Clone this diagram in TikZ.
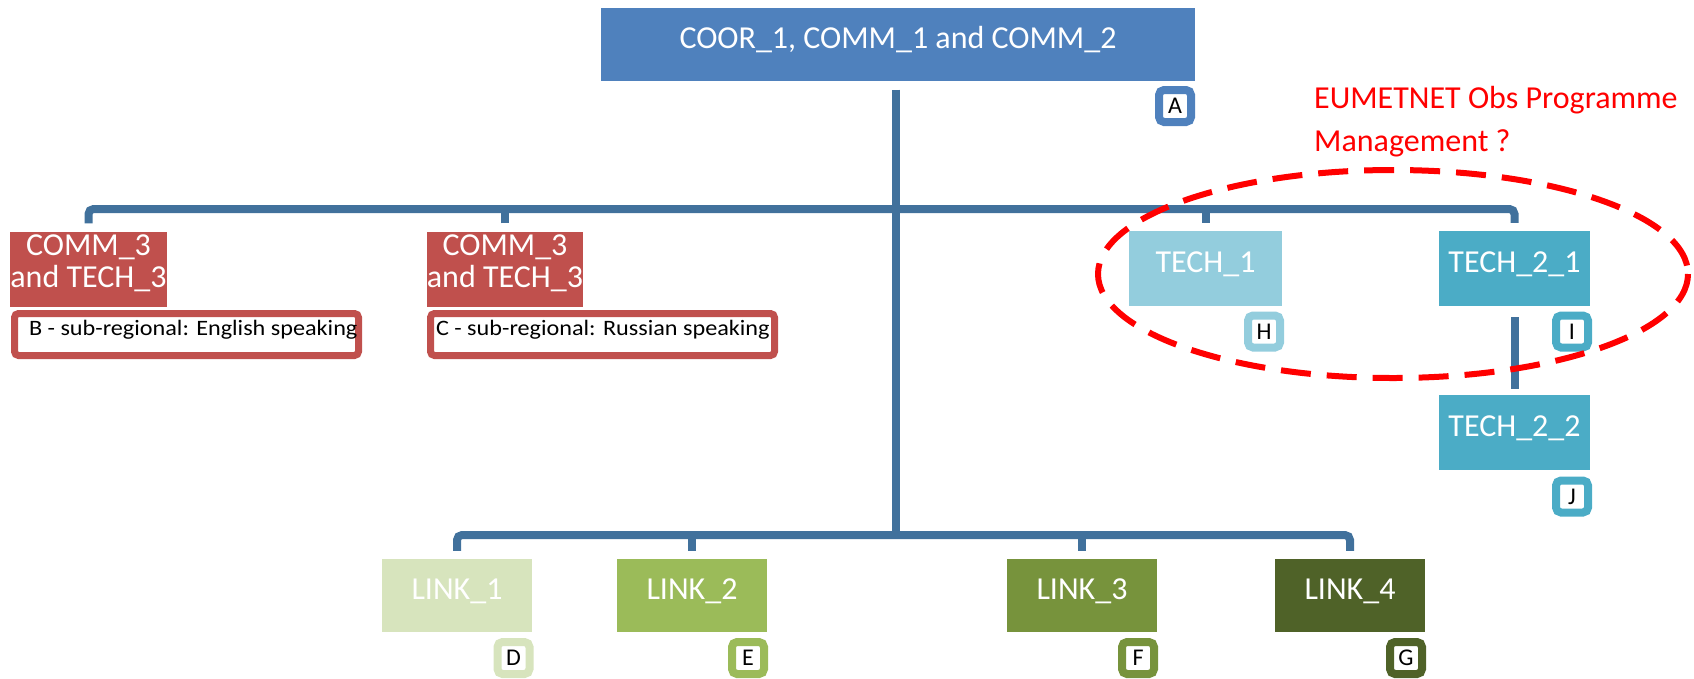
\documentclass[tikz,border=0pt]{standalone}
\usepackage{fontspec}
\setmainfont{Carlito}
\definecolor{topblue}{HTML}{4F81BD}
\definecolor{connblue}{HTML}{41719C}
\definecolor{commred}{HTML}{C0504D}
\definecolor{techlight}{HTML}{93CDDD}
\definecolor{techmid}{HTML}{4BACC6}
\definecolor{linkA}{HTML}{D7E4BD}
\definecolor{linkB}{HTML}{9BBB59}
\definecolor{linkC}{HTML}{77933C}
\definecolor{linkD}{HTML}{4F6228}
\definecolor{eumred}{HTML}{FF0000}
\begin{document}
\begin{tikzpicture}[x=1pt,y=-1pt,
  orgbox/.style={fill=#1, draw=none, inner sep=0pt, text=white,
    font=\fontsize{32}{32}\selectfont, minimum width=151pt, minimum height=75pt,
    text height=13.4pt, text depth=4.8pt},
  twoline/.style={align=center, font=\fontsize{32}{32.5}\selectfont, text height=41pt, text depth=4pt},
  subbox/.style={draw=commred, line width=7pt, fill=white, rounded corners=4pt,
    inner sep=0pt, minimum width=344pt, minimum height=42pt, text=black,
    font=\fontsize{22}{22}\selectfont, text height=4pt, text depth=3pt},
  tagbox/.style={draw=#1, line width=8pt, fill=white, rounded corners=5pt,
    inner sep=0pt, minimum width=32pt, minimum height=32pt, text=black,
    font=\fontsize{24}{24}\selectfont},
  conn/.style={draw=connblue, line width=8pt},
  eumtext/.style={text=eumred, font=\fontsize{32}{32}\selectfont, inner sep=0pt, anchor=base west}
]
\useasboundingbox (0,0) rectangle (1694,678);

% top
\node[orgbox=topblue, minimum width=594pt, minimum height=73pt] (top) at (898,44) {COOR\_1, COMM\_1 and COMM\_2};
\node[tagbox=topblue] (tagA) at (1175,106) {A};

% regional boxes
\node[orgbox=commred, twoline] (commB) at (88.5,269) {COMM\_3\\and TECH\_3};
\node[subbox] (subB) at (186.5,334.5) {\makebox[315pt][l]{\scalebox{1.10}[1]{B - sub-regional: English speaking}}};
\node[orgbox=commred, twoline] (commC) at (505,269) {COMM\_3\\and TECH\_3};
\node[subbox] (subC) at (602.5,334.5) {\makebox[333pt][l]{\scalebox{1.10}[1]{C - sub-regional: Russian speaking}}};

% tech boxes
\node[orgbox=techlight, minimum width=153pt] (tech1) at (1205.5,268.5) {TECH\_1};
\node[tagbox=techlight] (tagH) at (1264,331.5) {H};
\node[orgbox=techmid] (tech21) at (1514.5,268.5) {TECH\_2\_1};
\node[tagbox=techmid] (tagI) at (1572,331.5) {I};
\node[orgbox=techmid] (tech22) at (1514.5,432.5) {TECH\_2\_2};
\node[tagbox=techmid] (tagJ) at (1572,496.5) {J};

% links
\node[orgbox=linkA, minimum width=150pt, minimum height=73pt] (link1) at (457,595.5) {LINK\_1};
\node[tagbox=linkA] (tagD) at (513.5,658) {D};
\node[orgbox=linkB, minimum width=150pt, minimum height=73pt] (link2) at (692,595.5) {LINK\_2};
\node[tagbox=linkB] (tagE) at (748,658) {E};
\node[orgbox=linkC, minimum width=150pt, minimum height=73pt] (link3) at (1082,595.5) {LINK\_3};
\node[tagbox=linkC] (tagF) at (1138,658) {F};
\node[orgbox=linkD, minimum width=150pt, minimum height=73pt] (link4) at (1350,595.5) {LINK\_4};
\node[tagbox=linkD] (tagG) at (1406,658) {G};

% connectors
\coordinate (busU) at (896,209);
\coordinate (busL) at (896,535);
\draw[conn] ([yshift=-9pt]top.south -| busU) -- (busL);
\draw[conn, rounded corners=5pt] ([yshift=8pt]commB.north) |- (busU) -| ([yshift=8pt]tech21.north);
\draw[conn] ([yshift=8pt]commC.north) -- (commC.north |- busU);
\draw[conn] ([yshift=8pt]tech1.north) -- (tech1.north |- busU);
\draw[conn, rounded corners=5pt] ([yshift=8pt]link1.north) |- (busL) -| ([yshift=8pt]link4.north);
\draw[conn] ([yshift=8pt]link2.north) -- (link2.north |- busL);
\draw[conn] ([yshift=8pt]link3.north) -- (link3.north |- busL);
\draw[conn] ([yshift=-11pt]tech21.south) -- ([yshift=6pt]tech22.north);

% EUMETNET annotation
\node[eumtext] (eum1) at (1314,108.5) {EUMETNET Obs Programme};
\node[eumtext] (eum2) at (1314,151.5) {Management ?};
\draw[eumred, line width=6pt, dash pattern=on 30pt off 16pt] (1393,274) ellipse [x radius=295, y radius=104];
\end{tikzpicture}
\end{document}
